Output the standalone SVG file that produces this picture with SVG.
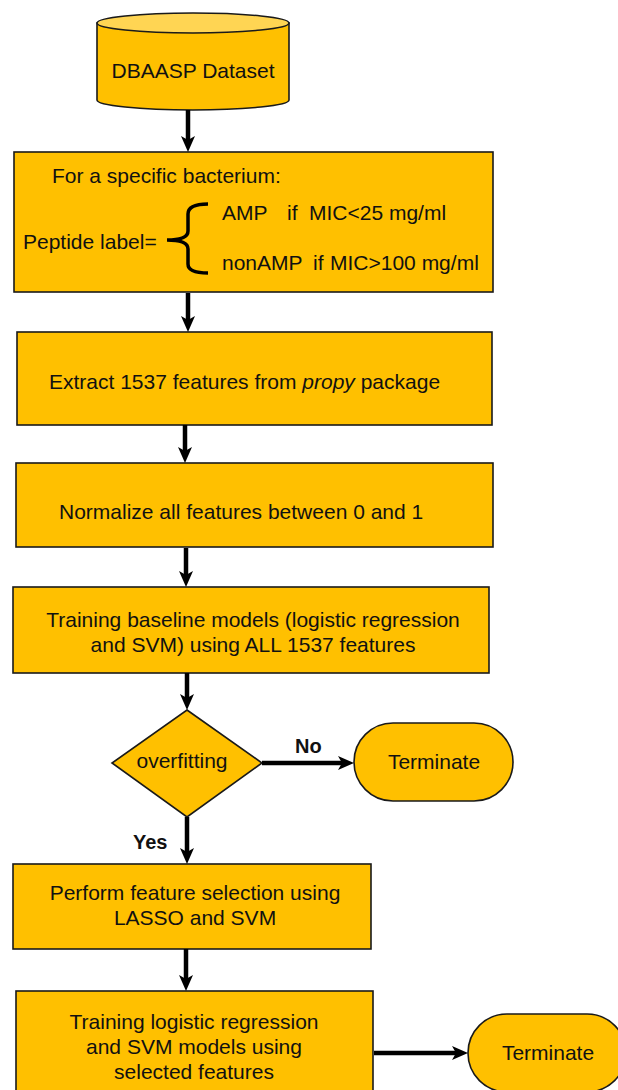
<svg xmlns="http://www.w3.org/2000/svg" width="618" height="1090" viewBox="0 0 618 1090">
  <style>
    .box { fill: #FFC000; stroke: #1a1a1a; stroke-width: 1.6; }
    .top { fill: #FFD553; stroke: #1a1a1a; stroke-width: 1.6; }
    .txt { font-family: "Liberation Sans", Arial, sans-serif; font-size: 21px; fill: #111; }
    .mid { text-anchor: middle; }
    .lbl { font-family: "Liberation Sans", Arial, sans-serif; font-size: 20px; font-weight: bold; fill: #111; }
    .conn { stroke: #000; stroke-width: 4.5; fill: none; marker-end: url(#head); }
  </style>
  <defs>
    <marker id="head" viewBox="0 0 16 14" refX="4" refY="7" markerWidth="16" markerHeight="14" markerUnits="userSpaceOnUse" orient="auto">
      <path d="M0,0 L16,7 L0,14 L4,7 z" fill="#000"/>
    </marker>
  </defs>

  <!-- data source cylinder -->
  <g id="dataset">
    <path class="box" d="M97,23 L97,100 A96,10 0 0 0 289,100 L289,23 Z"/>
    <ellipse class="top" cx="193" cy="23" rx="96" ry="10"/>
    <text class="txt mid" x="193" y="78">DBAASP Dataset</text>
  </g>

  <g id="labeling">
    <rect class="box" x="14" y="152" width="479" height="140"/>
    <text class="txt" x="52" y="183">For a specific bacterium:</text>
    <text class="txt" x="23" y="249">Peptide label=</text>
    <path d="M208,204 Q188,204 188,214 L188,231 Q188,240 167,240 Q188,240 188,249 L188,264 Q188,273 208,273" fill="none" stroke="#000" stroke-width="3.5"/>
    <text class="txt" y="220"><tspan x="222">AMP</tspan><tspan x="287">if</tspan><tspan x="309">MIC&lt;25 mg/ml</tspan></text>
    <text class="txt" y="270"><tspan x="222">nonAMP</tspan><tspan x="313">if</tspan><tspan x="330">MIC&gt;100 mg/ml</tspan></text>
  </g>

  <g id="extract">
    <rect class="box" x="17" y="332" width="475" height="93"/>
    <text class="txt" x="49" y="389">Extract 1537 features from <tspan font-style="italic">propy</tspan> package</text>
  </g>

  <g id="normalize">
    <rect class="box" x="16" y="463" width="477" height="84"/>
    <text class="txt" x="59" y="519">Normalize all features between 0 and 1</text>
  </g>

  <g id="baseline">
    <rect class="box" x="13" y="587" width="476" height="86"/>
    <text class="txt mid" x="253" y="627">Training baseline models (logistic regression</text>
    <text class="txt mid" x="253" y="652">and SVM) using ALL 1537 features</text>
  </g>

  <g id="overfitting">
    <polygon class="box" points="187,710 262,763 187,817 112,763"/>
    <text class="txt mid" x="182" y="768">overfitting</text>
  </g>

  <g id="terminate1">
    <rect class="box" x="354" y="723" width="159" height="78" rx="39" ry="39"/>
    <text class="txt mid" x="434" y="769">Terminate</text>
  </g>

  <g id="selection">
    <rect class="box" x="13" y="864" width="358" height="85"/>
    <text class="txt mid" x="195" y="900">Perform feature selection using</text>
    <text class="txt mid" x="195" y="925">LASSO and SVM</text>
  </g>

  <g id="final-models">
    <rect class="box" x="16" y="991" width="357" height="110"/>
    <text class="txt mid" x="194" y="1029">Training logistic regression</text>
    <text class="txt mid" x="194" y="1054">and SVM models using</text>
    <text class="txt mid" x="194" y="1079">selected features</text>
  </g>

  <g id="terminate2">
    <rect class="box" x="468" y="1014" width="158" height="78" rx="39" ry="39"/>
    <text class="txt mid" x="548" y="1060">Terminate</text>
  </g>

  <g id="connectors">
    <line class="conn" x1="188" y1="110" x2="188" y2="140"/>
    <line class="conn" x1="188" y1="293" x2="188" y2="320"/>
    <line class="conn" x1="185" y1="425" x2="185" y2="451"/>
    <line class="conn" x1="186" y1="548" x2="186" y2="575"/>
    <line class="conn" x1="187" y1="673" x2="187" y2="698"/>
    <line class="conn" x1="262" y1="763" x2="342" y2="763"/>
    <line class="conn" x1="187" y1="817" x2="187" y2="852"/>
    <line class="conn" x1="186" y1="949" x2="186" y2="979"/>
    <line class="conn" x1="374" y1="1053" x2="456" y2="1053"/>
    <text class="lbl" x="295" y="753">No</text>
    <text class="lbl" x="133" y="849">Yes</text>
  </g>
</svg>
